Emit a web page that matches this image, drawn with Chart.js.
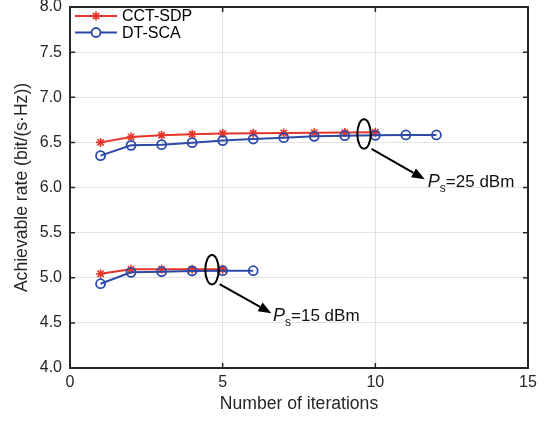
<!DOCTYPE html>
<html>
<head>
<meta charset="utf-8">
<script src="https://cdn.jsdelivr.net/npm/chart.js@4.4.1/dist/chart.umd.min.js"></script>
<style>
  html, body { margin: 0; padding: 0; background: #fff; }
  #grafico { display: block; }
</style>
</head>
<body>
<canvas id="grafico" width="545" height="421"></canvas>
<script>
// dados
const iterAlta   = [1, 2, 3, 4, 5, 6, 7, 8, 9, 10];
const sdpAlta    = [6.50, 6.56, 6.58, 6.59, 6.597, 6.60, 6.604, 6.607, 6.609, 6.611];
const iterAltaB  = [1, 2, 3, 4, 5, 6, 7, 8, 9, 10, 11, 12];
const scaAlta    = [6.353, 6.467, 6.475, 6.497, 6.52, 6.537, 6.552, 6.567, 6.574, 6.578, 6.582, 6.582];
const iterBaixa  = [1, 2, 3, 4, 5];
const sdpBaixa   = [5.045, 5.093, 5.093, 5.093, 5.093];
const iterBaixaB = [1, 2, 3, 4, 5, 6];
const scaBaixa   = [4.934, 5.06, 5.067, 5.075, 5.078, 5.078];

const xTicks = [0, 5, 10, 15];
const yTicks = [4.0, 4.5, 5.0, 5.5, 6.0, 6.5, 7.0, 7.5, 8.0];

const nomes = ['CCT-SDP', 'DT-SCA'];
const rotulosPs = ['25 dBm', '15 dBm'];
// elipse (centro), seta (inicio, ponta) e texto, em coordenadas de dados
const elipses = [[9.63, 6.593], [4.65, 5.089]];
const setas   = [[9.875, 6.427, 11.62, 6.091], [4.90, 4.93, 6.597, 4.606]];
const textos  = [[11.72, 6.009], [6.65, 4.521]];

const VERMELHO = '#e5352b';
const AZUL = '#2d4aa6';
const TINTA = '#262626';
const FONTE = '"Liberation Sans", Arial, Helvetica, sans-serif';

function pontos(xs, ys) {
    return xs.map((x, i) => ({ x: x, y: ys[i] }));
}

function serie(label, xs, ys, cor, estilo, ordem) {
    return {
        label: label,
        data: pontos(xs, ys),
        borderColor: cor,
        borderWidth: 2,
        pointStyle: estilo,
        pointRadius: 4.5,
        pointBorderColor: cor,
        pointBackgroundColor: 'rgba(0,0,0,0)',
        pointBorderWidth: estilo === 'star' ? 1.6 : 1.8,
        tension: 0,
        fill: false,
        order: ordem
    };
}

const caixaEixos = {
    id: 'caixaEixos',
    beforeDatasetsDraw(chart) {
        const { ctx, chartArea: a, scales: { x, y } } = chart;
        ctx.save();
        ctx.strokeStyle = TINTA;
        ctx.lineWidth = 1.5;
        const t = 5;
        ctx.beginPath();
        xTicks.forEach(v => {
            const px = x.getPixelForValue(v);
            ctx.moveTo(px, a.bottom); ctx.lineTo(px, a.bottom - t);
            ctx.moveTo(px, a.top); ctx.lineTo(px, a.top + t);
        });
        yTicks.forEach(v => {
            const py = y.getPixelForValue(v);
            ctx.moveTo(a.left, py); ctx.lineTo(a.left + t, py);
            ctx.moveTo(a.right, py); ctx.lineTo(a.right - t, py);
        });
        ctx.stroke();
        ctx.lineWidth = 2;
        ctx.strokeRect(a.left, a.top, a.right - a.left, a.bottom - a.top);
        ctx.restore();
    },
    afterDatasetsDraw(chart) {
        const { ctx, scales: { x, y } } = chart;
        ctx.save();
        ctx.strokeStyle = '#000';
        ctx.fillStyle = '#000';
        ctx.lineWidth = 2;

        elipses.forEach(e => {
            ctx.beginPath();
            ctx.ellipse(x.getPixelForValue(e[0]), y.getPixelForValue(e[1]), 6.7, 14.7, 0, 0, Math.PI * 2);
            ctx.stroke();
        });

        setas.forEach(s => {
            const x0 = x.getPixelForValue(s[0]), y0 = y.getPixelForValue(s[1]);
            const x1 = x.getPixelForValue(s[2]), y1 = y.getPixelForValue(s[3]);
            const ang = Math.atan2(y1 - y0, x1 - x0);
            const comp = 13, larg = 5;
            const bx = x1 - comp * Math.cos(ang), by = y1 - comp * Math.sin(ang);
            ctx.beginPath();
            ctx.moveTo(x0, y0); ctx.lineTo(bx, by);
            ctx.stroke();
            ctx.beginPath();
            ctx.moveTo(x1, y1);
            ctx.lineTo(bx + larg * Math.sin(ang), by - larg * Math.cos(ang));
            ctx.lineTo(bx - larg * Math.sin(ang), by + larg * Math.cos(ang));
            ctx.closePath();
            ctx.fill();
        });

        ctx.fillStyle = '#111';
        ctx.textBaseline = 'alphabetic';
        ctx.textAlign = 'left';
        textos.forEach((t, i) => {
            let px = x.getPixelForValue(t[0]);
            const py = y.getPixelForValue(t[1]);
            ctx.font = 'italic 18px ' + FONTE;
            ctx.fillText('P', px, py);
            px += ctx.measureText('P').width;
            ctx.font = '12px ' + FONTE;
            ctx.fillText('s', px, py + 5);
            px += ctx.measureText('s').width;
            ctx.font = '17px ' + FONTE;
            ctx.fillText('=' + rotulosPs[i], px, py);
        });

        // legenda no estilo do original
        const cores = [VERMELHO, AZUL];
        const a = chart.chartArea;
        nomes.forEach((nome, i) => {
            const ly = a.top + 9 + i * 16.5;
            const lx0 = a.left + 5, lx1 = a.left + 47, mx = a.left + 26;
            ctx.strokeStyle = cores[i];
            ctx.lineWidth = 2;
            ctx.beginPath();
            ctx.moveTo(lx0, ly); ctx.lineTo(lx1, ly);
            ctx.stroke();
            if (i === 0) {
                ctx.lineWidth = 1.6;
                ctx.beginPath();
                for (let k = 0; k < 4; k++) {
                    const an = k * Math.PI / 4;
                    ctx.moveTo(mx - 4.5 * Math.cos(an), ly - 4.5 * Math.sin(an));
                    ctx.lineTo(mx + 4.5 * Math.cos(an), ly + 4.5 * Math.sin(an));
                }
                ctx.stroke();
            } else {
                ctx.lineWidth = 1.8;
                ctx.fillStyle = '#fff';
                ctx.beginPath();
                ctx.arc(mx, ly, 4.5, 0, Math.PI * 2);
                ctx.fill();
                ctx.stroke();
            }
            ctx.fillStyle = '#000';
            ctx.font = '16px ' + FONTE;
            ctx.textBaseline = 'middle';
            ctx.fillText(nome, a.left + 52, ly + 1);
        });
        ctx.restore();
    }
};

document.addEventListener('DOMContentLoaded', () => {
    const ctx = document.getElementById('grafico').getContext('2d');

    new Chart(ctx, {
        type: 'line',
        data: {
            datasets: [
                serie(nomes[0], iterAlta, sdpAlta, VERMELHO, 'star', 2),
                serie(nomes[1], iterAltaB, scaAlta, AZUL, 'circle', 1),
                serie(nomes[0], iterBaixa, sdpBaixa, VERMELHO, 'star', 2),
                serie(nomes[1], iterBaixaB, scaBaixa, AZUL, 'circle', 1)
            ]
        },
        options: {
            responsive: false,
            animation: false,
            layout: { padding: { top: 7, right: 17, left: 0, bottom: 0 } },
            plugins: {
                legend: { display: false },
                tooltip: { enabled: false }
            },
            scales: {
                x: {
                    type: 'linear',
                    min: 0, max: 15,
                    afterFit: s => { s.height = 53; },
                    afterBuildTicks: s => { s.ticks = xTicks.map(v => ({ value: v })); },
                    grid: { color: '#e3e3e3', lineWidth: 1, drawTicks: false },
                    border: { display: false },
                    ticks: { color: TINTA, padding: 5, font: { family: FONTE, size: 16 } },
                    title: { display: true, text: 'Number of iterations', color: TINTA, padding: { top: 0, bottom: 6 }, font: { family: FONTE, size: 17.6 } }
                },
                y: {
                    min: 4, max: 8,
                    afterFit: s => { s.width = 70; s.paddingTop = 0; s.paddingBottom = 0; },
                    afterBuildTicks: s => { s.ticks = yTicks.map(v => ({ value: v })); },
                    grid: { color: '#e3e3e3', lineWidth: 1, drawTicks: false },
                    border: { display: false },
                    ticks: { color: TINTA, padding: 8, font: { family: FONTE, size: 16 }, callback: v => Number(v).toFixed(1) },
                    title: { display: true, text: 'Achievable rate (bit/(s·Hz))', color: TINTA, padding: { top: 12, bottom: 0 }, font: { family: FONTE, size: 17.6 } }
                }
            }
        },
        plugins: [caixaEixos]
    });
});
</script>
</body>
</html>
